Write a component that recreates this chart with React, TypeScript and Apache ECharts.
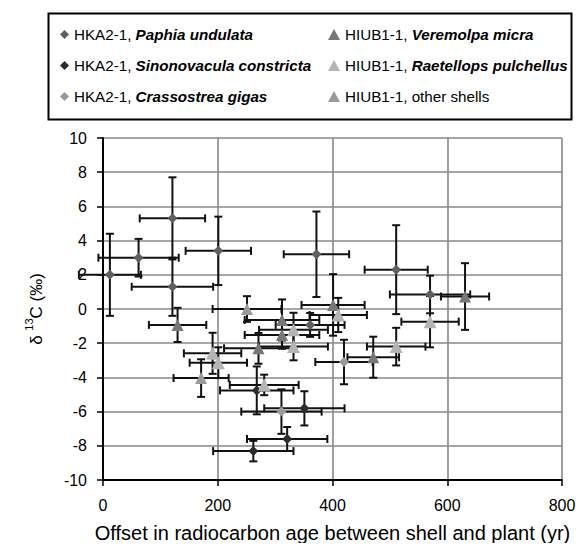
import React, { useEffect, useRef } from "react";
import * as echarts from "echarts";

// Axis ranges / ticks
const xTickValues = [0, 200, 400, 600, 800];
const yTickValues = [-10, -8, -6, -4, -2, 0, 2, 4, 6, 8, 10];

// Each point: [offset (yr), δ13C (‰), x error, y error]
const paphia = [
  [12, 2.0, 54, 2.4],
  [62, 3.0, 70, 1.1],
  [121, 5.3, 57, 2.4],
  [121, 1.3, 71, 1.7],
  [201, 3.4, 57, 2.0],
  [372, 3.2, 57, 2.5],
  [511, 2.3, 55, 2.6],
  [570, 0.85, 70, 1.1],
  [361, -0.93, 60, 0.7],
];
const sinonovacula = [
  [268, -4.76, 64, 1.4],
  [351, -5.81, 70, 1.0],
  [321, -7.6, 70, 0.7],
  [262, -8.31, 70, 0.6],
];
const crassostrea = [
  [311, -6.0, 70, 1.3],
  [420, -3.1, 50, 1.3],
];
const veremolpa = [
  [130, -0.93, 50, 1.0],
  [312, -0.64, 65, 1.2],
  [312, -1.52, 65, 0.8],
  [271, -2.3, 60, 0.9],
  [401, 0.24, 55, 1.8],
  [471, -2.82, 45, 1.2],
  [631, 0.73, 42, 1.95],
];
const raetellops = [
  [191, -2.59, 50, 1.2],
  [201, -3.14, 50, 0.9],
  [332, -1.22, 60, 1.0],
  [332, -2.2, 60, 0.8],
  [281, -4.44, 60, 0.6],
  [410, -0.35, 50, 1.0],
  [511, -2.2, 51, 1.1],
  [570, -0.74, 50, 1.5],
];
const otherShells = [
  [251, 0.0, 60, 0.75],
  [171, -4.04, 48, 1.1],
];

const seriesDefs = [
  { name: "HKA2-1, Paphia undulata", data: paphia, symbol: "diamond", color: "#5f5f5f", size: 10, legend: 0 },
  { name: "HKA2-1, Sinonovacula constricta", data: sinonovacula, symbol: "diamond", color: "#2b2b2b", size: 10, legend: 0 },
  { name: "HKA2-1, Crassostrea gigas", data: crassostrea, symbol: "diamond", color: "#9a9a9a", size: 10, legend: 0 },
  { name: "HIUB1-1, Veremolpa micra", data: veremolpa, symbol: "triangle", color: "#777777", size: 12, legend: 1 },
  { name: "HIUB1-1, Raetellops pulchellus", data: raetellops, symbol: "triangle", color: "#b4b4b4", size: 13, legend: 1 },
  { name: "HIUB1-1, other shells", data: otherShells, symbol: "triangle", color: "#999999", size: 12, legend: 1 },
];

const FONT = "'Liberation Sans', Arial, sans-serif";

export default function App() {
  const ref = useRef<HTMLDivElement>(null);

  useEffect(() => {
    if (!ref.current) return;
    const chart = echarts.init(ref.current, undefined, { renderer: "svg" });

    const allErr = seriesDefs.flatMap((s) => s.data);

    const legendFormatter = (name: string) => {
      const idx = name.indexOf(", ");
      const prefix = name.slice(0, idx + 2);
      const species = name.slice(idx + 2);
      if (species === "other shells") return `{r|${prefix}${species}}`;
      return `{r|${prefix}}{b|${species}}`;
    };
    const LF = 15.2;
    const legendText = {
      fontFamily: FONT,
      fontSize: LF,
      color: "#000",
      rich: {
        r: { fontFamily: FONT, fontSize: LF, color: "#000", lineHeight: 18 },
        b: { fontFamily: FONT, fontSize: LF, color: "#000", fontWeight: "bold", fontStyle: "italic", lineHeight: 18 },
      },
    };

    const option: any = {
      animation: false,
      backgroundColor: "#fff",
      legend: [
        {
          orient: "vertical",
          left: 55,
          top: 22,
          itemWidth: 9,
          itemHeight: 9,
          itemGap: 16,
          selectedMode: false,
          data: seriesDefs.filter((s) => s.legend === 0).map((s) => s.name),
          formatter: legendFormatter,
          textStyle: legendText,
        },
        {
          orient: "vertical",
          left: 323,
          top: 22,
          itemWidth: 12,
          itemHeight: 11,
          itemGap: 16,
          selectedMode: false,
          data: seriesDefs.filter((s) => s.legend === 1).map((s) => s.name),
          formatter: legendFormatter,
          textStyle: legendText,
        },
      ],
      graphic: [
        {
          type: "rect",
          left: 46,
          top: 11,
          shape: { width: 523, height: 106 },
          style: { fill: "none", stroke: "#000", lineWidth: 2 },
          z: 0,
        },
      ],
      grid: { left: 103, right: 23, top: 138, bottom: 71 },
      xAxis: {
        type: "value",
        min: xTickValues[0],
        max: xTickValues[xTickValues.length - 1],
        interval: 200,
        name: "Offset in radiocarbon age between shell and plant (yr)",
        nameLocation: "middle",
        nameGap: 43,
        nameTextStyle: { fontFamily: FONT, fontSize: 20, color: "#000" },
        axisLine: { onZero: false, lineStyle: { color: "#000", width: 2 } },
        axisTick: { show: true, length: 6, lineStyle: { color: "#000", width: 1.5 } },
        axisLabel: { fontFamily: FONT, fontSize: 16, color: "#000", margin: 17 },
        splitLine: { show: true, lineStyle: { color: "#888", width: 1.6 } },
      },
      yAxis: {
        type: "value",
        min: yTickValues[0],
        max: yTickValues[yTickValues.length - 1],
        interval: 2,
        name: "{a|δ }{s|13}{a|C (‰)}",
        nameLocation: "middle",
        nameGap: 58,
        nameRotate: 90,
        nameTextStyle: {
          fontFamily: FONT,
          fontSize: 17,
          color: "#000",
          rich: {
            a: { fontFamily: FONT, fontSize: 17, color: "#000", lineHeight: 22, verticalAlign: "bottom" },
            s: { fontFamily: FONT, fontSize: 11, color: "#000", lineHeight: 22, verticalAlign: "top" },
          },
        },
        axisLine: { show: true, lineStyle: { color: "#000", width: 2 } },
        axisTick: { show: true, length: 6, lineStyle: { color: "#000", width: 1.5 } },
        axisLabel: { fontFamily: FONT, fontSize: 16, color: "#000", margin: 16 },
        splitLine: { show: true, lineStyle: { color: "#888", width: 1.6 } },
      },
      series: [
        {
          type: "custom",
          name: "errors",
          data: allErr,
          encode: { x: 0, y: 1 },
          z: 3,
          silent: true,
          renderItem: (params: any, api: any) => {
            const x = api.value(0);
            const y = api.value(1);
            const ex = api.value(2);
            const ey = api.value(3);
            const l = api.coord([x - ex, y]);
            const r = api.coord([x + ex, y]);
            const t = api.coord([x, y + ey]);
            const b = api.coord([x, y - ey]);
            const c = 4;
            const style = { stroke: "#111", lineWidth: 2, fill: "none" };
            const ln = (x1: number, y1: number, x2: number, y2: number) => ({
              type: "line",
              shape: { x1, y1, x2, y2 },
              style,
            });
            return {
              type: "group",
              children: [
                ln(l[0], l[1], r[0], r[1]),
                ln(l[0], l[1] - c, l[0], l[1] + c),
                ln(r[0], r[1] - c, r[0], r[1] + c),
                ln(t[0], t[1], b[0], b[1]),
                ln(t[0] - c, t[1], t[0] + c, t[1]),
                ln(b[0] - c, b[1], b[0] + c, b[1]),
              ],
            };
          },
        },
        ...seriesDefs.map((s) => ({
          type: "scatter",
          name: s.name,
          symbol: s.symbol,
          symbolSize: s.size,
          z: 5,
          itemStyle: { color: s.color, opacity: 1 },
          data: s.data.map((d) => [d[0], d[1]]),
        })),
      ],
    };

    chart.setOption(option);
    return () => chart.dispose();
  }, []);

  return <div ref={ref} style={{ width: 585, height: 551, margin: -8 }} />;
}
